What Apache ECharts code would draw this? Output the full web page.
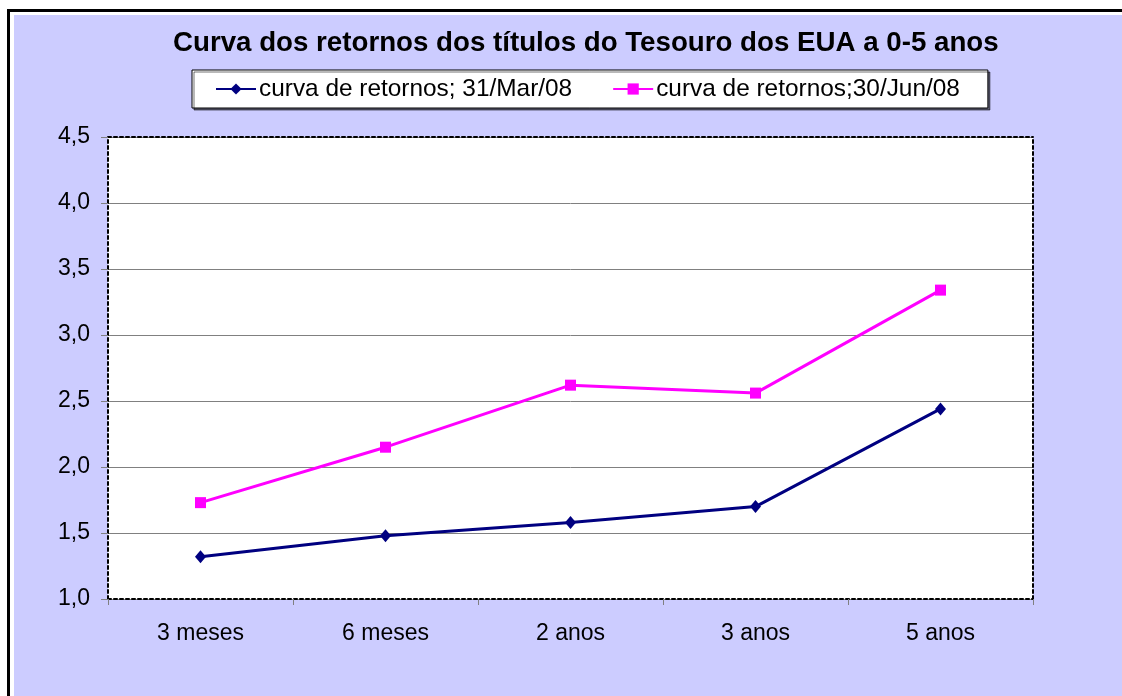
<!DOCTYPE html>
<html>
<head>
<meta charset="utf-8">
<script src="https://cdn.jsdelivr.net/npm/echarts@6/dist/echarts.min.js"></script>
<style>
  html, body { margin: 0; padding: 0; background: #fff; overflow: hidden; }
  #wrap { position: relative; width: 1122px; height: 696px; overflow: hidden; background: #fff; }
  #frame { position: absolute; left: 7px; top: 9px; width: 1300px; height: 900px; border-left: 3px solid #000; border-top: 3px solid #000; background: #fff; }
  #inner { position: absolute; left: 14px; top: 15px; width: 1300px; height: 900px; background: #CCCCFF; }
  #chart { position: absolute; left: 0; top: 0; width: 1122px; height: 696px; }
</style>
</head>
<body>
<div id="wrap">
  <div id="frame"></div>
  <div id="inner"></div>
  <div id="chart"></div>
</div>
<script>
const titleText = 'Curva dos retornos dos títulos do Tesouro dos EUA a 0-5 anos';
const categories = ['3 meses', '6 meses', '2 anos', '3 anos', '5 anos'];
const seriesNames = ['curva de retornos; 31/Mar/08', 'curva de retornos;30/Jun/08'];
const marValues = [1.32, 1.48, 1.58, 1.70, 2.44];
const junValues = [1.73, 2.15, 2.62, 2.56, 3.34];
const yMin = 1.0, yMax = 4.5, yStep = 0.5;

const FONT = 'Liberation Sans, Arial, sans-serif';
const dashed = { color: '#000', width: 2, type: [3, 3] };

const chart = echarts.init(document.getElementById('chart'));
chart.setOption({
  animation: false,
  textStyle: { fontFamily: FONT },
  title: {
    text: titleText,
    left: 173,
    top: 29,
    padding: 0,
    textStyle: { fontFamily: FONT, fontWeight: 'bold', fontSize: 27.7, color: '#000' }
  },
  legend: {
    left: 192,
    top: 70,
    padding: [7, 28, 7, 23],
    itemGap: 40,
    itemWidth: 40,
    itemHeight: 14,
    backgroundColor: '#fff',
    borderColor: '#000',
    borderWidth: 1,
    borderRadius: 0,
    shadowColor: 'rgba(0,0,0,0.55)',
    shadowOffsetX: 2,
    shadowOffsetY: 2,
    shadowBlur: 0,
    textStyle: { fontFamily: FONT, fontSize: 24.4, color: '#000', padding: [0, 0, 0, -2] },
    data: seriesNames
  },
  grid: {
    left: 108, right: 89, top: 137, bottom: 97,
    show: true, backgroundColor: '#fff', borderWidth: 0
  },
  xAxis: [{
    type: 'category',
    data: categories,
    boundaryGap: true,
    axisLine: { lineStyle: dashed },
    axisTick: { show: true, length: 6, lineStyle: { color: '#808080', width: 1 } },
    axisLabel: { fontFamily: FONT, fontSize: 23, color: '#000', margin: 23 },
    splitLine: { show: false }
  }, {
    type: 'category',
    data: categories,
    position: 'top',
    axisLine: { lineStyle: dashed },
    axisTick: { show: false },
    axisLabel: { show: false },
    splitLine: { show: false }
  }],
  yAxis: [{
    type: 'value',
    min: yMin, max: yMax, interval: yStep,
    axisLine: { show: true, lineStyle: dashed },
    axisTick: { show: true, length: 7, lineStyle: { color: '#808080', width: 1 } },
    axisLabel: {
      fontFamily: FONT, fontSize: 23, color: '#000', margin: 18,
      formatter: v => v.toFixed(1).replace('.', ',')
    },
    splitLine: { show: true, lineStyle: { color: '#808080', width: 1 } }
  }, {
    type: 'value',
    min: yMin, max: yMax, interval: yStep,
    position: 'right',
    axisLine: { show: true, lineStyle: dashed },
    axisTick: { show: false },
    axisLabel: { show: false },
    splitLine: { show: false }
  }],
  series: [{
    name: seriesNames[0],
    type: 'line',
    data: marValues,
    symbol: 'diamond',
    symbolSize: [11, 13],
    lineStyle: { color: '#000080', width: 3 },
    itemStyle: { color: '#000080' },
    z: 4
  }, {
    name: seriesNames[1],
    type: 'line',
    data: junValues,
    symbol: 'rect',
    symbolSize: 11,
    lineStyle: { color: '#FF00FF', width: 3 },
    itemStyle: { color: '#FF00FF' },
    z: 3
  }]
});
</script>
</body>
</html>
